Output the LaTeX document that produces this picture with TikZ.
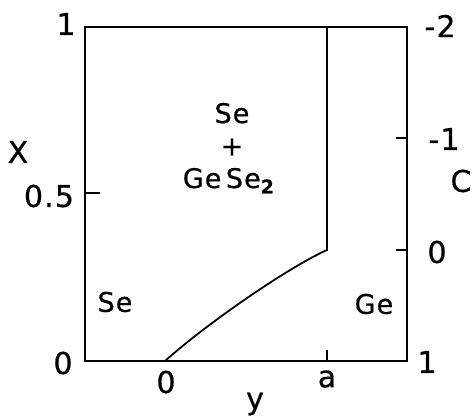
\documentclass[tikz,border=0pt]{standalone}
\usepackage{fontspec}
\setmainfont{DejaVu Sans}[LetterSpace=4,FakeBold=0.6]
\begin{document}
\begin{tikzpicture}[x=1pt,y=-1pt,
  frame/.style={line width=1.9pt,line join=miter},
  curve/.style={line width=1.8pt},
  tickline/.style={line width=1.8pt},
  lbl/.style={inner sep=0pt,font=\fontsize{30}{32}\selectfont},
  reg/.style={inner sep=0pt,font=\fontsize{27}{30}\selectfont,align=center}]
\useasboundingbox (0,0) rectangle (474,420);
% frame corners
\coordinate (tl) at (85,27);
\coordinate (tr) at (407,27);
\coordinate (bl) at (85,361);
\coordinate (br) at (407,361);
\draw[frame] (tl) -- (tr) -- (br) -- (bl) -- cycle;
% phase boundary
\coordinate (top) at (327,27);
\coordinate (kink) at (327,250);
\coordinate (start) at (165,361);
\draw[curve] (top) -- (kink) .. controls (287,268) and (205,325) .. (start);
% ticks
\coordinate (xh) at (85,193);
\coordinate (xhe) at (100,193);
\draw[tickline] (xh) -- (xhe);
\coordinate (cm1) at (407,138);
\coordinate (cm1e) at (396,138);
\draw[tickline] (cm1) -- (cm1e);
\coordinate (c0) at (407,250);
\coordinate (c0e) at (396,250);
\draw[tickline] (c0) -- (c0e);
\coordinate (ya) at (327,361);
\coordinate (yae) at (327,350);
\draw[tickline] (ya) -- (yae);
% left axis labels
\node[lbl] (x1) at (66,24) {1};
\node[lbl] (xhalf) at (49,196) {0.5};
\node[lbl] (x0) at (63,363) {0};
\node[lbl] (xlab) at (18,152) {X};
% right axis labels
\node[lbl] (cm2) at (440,26) {-2};
\node[lbl] (cm1l) at (444,139) {-1};
\node[lbl] (clab) at (461,181) {C};
\node[lbl] (c0l) at (437,252) {0};
\node[lbl] (c1l) at (427,362) {1};
% bottom labels
\node[lbl] (y0) at (166,382) {0};
\node[lbl] (yal) at (327,379) {a};
\node[lbl] (ylab) at (255,404) {y};
% region labels
\node[reg] (se) at (115,302) {Se};
\node[reg] (ge) at (374,304) {Ge};
\node[reg,anchor=base] (mix1) at (232,123) {Se};
\node[reg] (mix2) at (232,147) {+};
\node[reg,anchor=base] (mix3) at (229,188) {Ge\,Se\textsubscript{\textbf{2}}};
\end{tikzpicture}
\end{document}
